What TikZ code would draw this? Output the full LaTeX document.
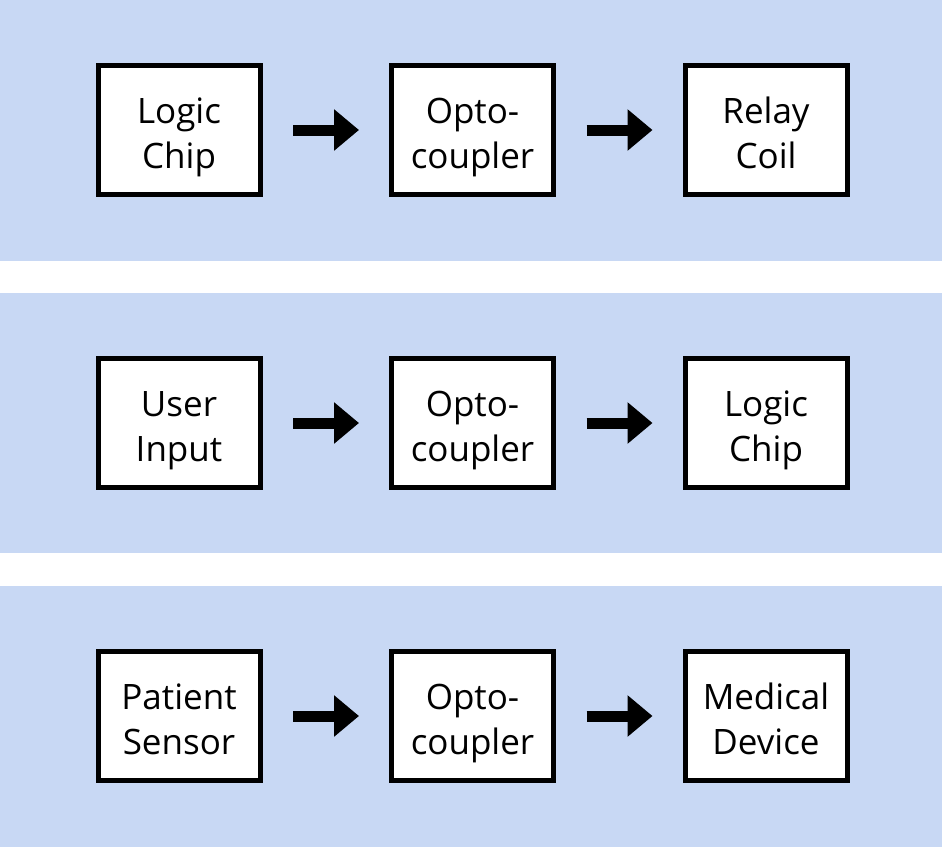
\documentclass[tikz,border=0pt]{standalone}
\usepackage{fontspec}
\setmainfont{Open Sans}
\usetikzlibrary{arrows.meta}
\definecolor{band}{HTML}{C8D8F4}
\newcommand{\twol}[2]{\raisebox{-7pt}[\height][\depth]{\begin{tabular}{@{}c@{}}#1\\#2\end{tabular}}}
\tikzset{
  blk/.style={draw=black, fill=white, line width=5pt, minimum width=162pt, minimum height=129pt,
    inner sep=0pt, font=\fontsize{35}{45}\selectfont},
  flow/.style={line width=11pt, -{Triangle[length=25pt,width=40pt]}, shorten <=30.5pt, shorten >=30pt}
}
\begin{document}
\begin{tikzpicture}[x=1pt,y=-1pt]
\useasboundingbox (0,0) rectangle (942,847);
\fill[band] (0,0) rectangle (942,260.5);
\fill[band] (0,292.5) rectangle (942,553);
\fill[band] (0,585.5) rectangle (942,847);
\node[blk] (a1) at (179,130) {\twol{Logic}{Chip}};
\node[blk] (b1) at (472.5,130) {\twol{Opto-}{coupler}};
\node[blk] (c1) at (766,130) {\twol{Relay}{Coil}};
\node[blk] (a2) at (179,423) {\twol{User}{Input}};
\node[blk] (b2) at (472.5,423) {\twol{Opto-}{coupler}};
\node[blk] (c2) at (766,423) {\twol{Logic}{Chip}};
\node[blk] (a3) at (179,716) {\twol{Patient}{Sensor}};
\node[blk] (b3) at (472.5,716) {\twol{Opto-}{coupler}};
\node[blk] (c3) at (766,716) {\twol{Medical}{Device}};
\foreach \r in {1,2,3}{
  \draw[flow] (a\r) -- (b\r);
  \draw[flow] (b\r) -- (c\r);
}
\end{tikzpicture}
\end{document}
